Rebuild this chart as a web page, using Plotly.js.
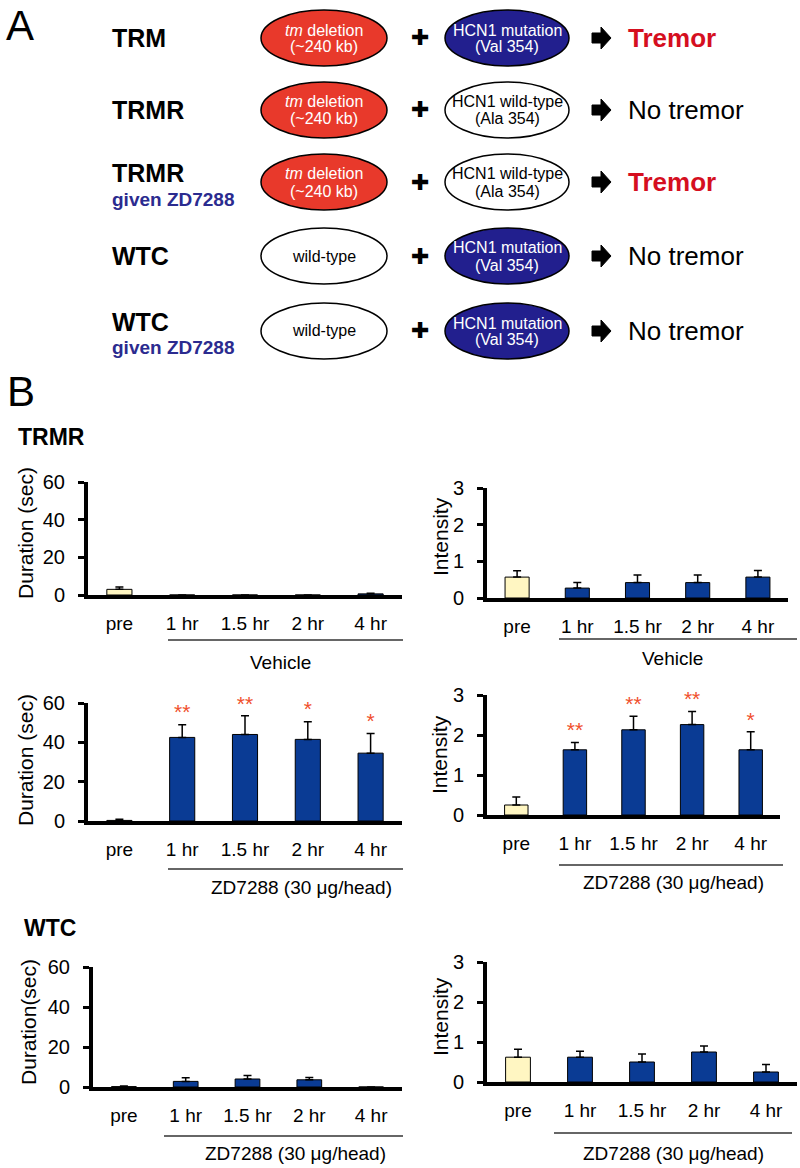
<!DOCTYPE html>
<html>
<head>
<meta charset="utf-8">
<script src="https://cdn.plot.ly/plotly-3.0.1.min.js"></script>
<style>html,body{margin:0;padding:0;background:#fff;}#chart{width:800px;height:1168px;}</style>
</head>
<body>
<div id="chart"></div>
<script>
// ---------- DATA ----------
const categories = ['pre', '1 hr', '1.5 hr', '2 hr', '4 hr'];
const durTicks = [0, 20, 40, 60];
const intTicks = [0, 1, 2, 3];

const trmrVehDur    = [3, 0, 0, 0, 0.6];
const trmrVehDurErr = [1.3, 0, 0, 0, 0.3];
const trmrVehInt    = [0.57, 0.27, 0.42, 0.42, 0.57];
const trmrVehIntErr = [0.17, 0.15, 0.21, 0.21, 0.18];

const trmrZdDur     = [0.3, 42.5, 44, 41.5, 34.5];
const trmrZdDurErr  = [0.6, 6.5, 9.5, 9, 10];
const trmrZdDurSig  = ['', '**', '**', '*', '*'];
const trmrZdInt     = [0.25, 1.63, 2.13, 2.26, 1.63];
const trmrZdIntErr  = [0.2, 0.18, 0.34, 0.33, 0.45];
const trmrZdIntSig  = ['', '**', '**', '**', '*'];

const wtcZdDur      = [0.2, 2.8, 4, 3.6, 0];
const wtcZdDurErr   = [0.3, 1.8, 1.7, 1.2, 0];
const wtcZdInt      = [0.62, 0.62, 0.5, 0.75, 0.25];
const wtcZdIntErr   = [0.2, 0.15, 0.2, 0.15, 0.19];

// Panel A content
const rowNames    = ['TRM', 'TRMR', 'TRMR', 'WTC', 'WTC'];
const rowSubs     = ['', '', 'given ZD7288', '', 'given ZD7288'];
const leftGenes   = [['<i>tm</i> deletion', '(~240 kb)'], ['<i>tm</i> deletion', '(~240 kb)'], ['<i>tm</i> deletion', '(~240 kb)'], ['wild-type'], ['wild-type']];
const leftKinds   = ['del', 'del', 'del', 'wt', 'wt'];
const rightGenes  = [['HCN1 mutation', '(Val 354)'], ['HCN1 wild-type', '(Ala 354)'], ['HCN1 wild-type', '(Ala 354)'], ['HCN1 mutation', '(Val 354)'], ['HCN1 mutation', '(Val 354)']];
const rightKinds  = ['mut', 'wt', 'wt', 'mut', 'mut'];
const outcomes    = ['Tremor', 'No tremor', 'Tremor', 'No tremor', 'No tremor'];

// ---------- LAYOUT HELPERS ----------
const W = 800, H = 1168;
const X = p => p / W;
const Y = p => 1 - p / H;
const BLUE = '#0a3b94', PRE = '#fff6c2', STAR = '#f0502d';
const FILL = {del: '#e8392b', mut: '#221f8e', wt: '#ffffff'};
const TXT = {del: '#ffffff', mut: '#ffffff', wt: '#000000'};

const layout = {
  width: W, height: H, margin: {l: 0, r: 0, t: 0, b: 0},
  paper_bgcolor: '#fff', plot_bgcolor: 'rgba(0,0,0,0)',
  showlegend: false, bargap: 0.6,
  font: {family: 'Liberation Sans, Arial, sans-serif', color: '#000'},
  shapes: [], annotations: []
};
const data = [];

const charts = [
  {v: trmrVehDur, e: trmrVehDurErr, sig: null, box: [88, 402, 482, 595], ticks: durTicks, rng: [0, 60], title: 'Duration (sec)', tx: 25, ty: 533, ul: [168, 403, 640], group: 'Vehicle', gx: 280, gy: 662},
  {v: trmrVehInt, e: trmrVehIntErr, sig: null, box: [487, 788, 488, 598], ticks: intTicks, rng: [0, 3], title: 'Intensity', tx: 440, ty: 537, ul: [559, 797, 639], group: 'Vehicle', gx: 672, gy: 658},
  {v: trmrZdDur, e: trmrZdDurErr, sig: trmrZdDurSig, box: [88, 402, 703, 821], ticks: durTicks, rng: [0, 60], title: 'Duration (sec)', tx: 25, ty: 760, ul: [168, 403, 869], group: 'ZD7288 (30 \u03bcg/head)', gx: 301, gy: 887},
  {v: trmrZdInt, e: trmrZdIntErr, sig: trmrZdIntSig, box: [487, 780, 695, 815], ticks: intTicks, rng: [0, 3], title: 'Intensity', tx: 440, ty: 755, ul: [559, 783, 865], group: 'ZD7288 (30 \u03bcg/head)', gx: 673, gy: 882},
  {v: wtcZdDur, e: wtcZdDurErr, sig: null, box: [93, 402, 967, 1087], ticks: durTicks, rng: [0, 60], title: 'Duration(sec)', tx: 28, ty: 1022, ul: [164, 403, 1136], group: 'ZD7288 (30 \u03bcg/head)', gx: 295, gy: 1153},
  {v: wtcZdInt, e: wtcZdIntErr, sig: null, box: [487, 797, 962, 1082], ticks: intTicks, rng: [0, 3], title: 'Intensity', tx: 440, ty: 1017, ul: [554, 792, 1133], group: 'ZD7288 (30 \u03bcg/head)', gx: 673, gy: 1153}
];

charts.forEach((c, i) => {
  const n = i + 1;
  const xa = 'x' + (n === 1 ? '' : n), ya = 'y' + (n === 1 ? '' : n);
  const xk = 'xaxis' + (n === 1 ? '' : n), yk = 'yaxis' + (n === 1 ? '' : n);
  data.push({
    type: 'bar', x: categories, y: c.v, xaxis: xa, yaxis: ya, width: 0.4,
    marker: {color: categories.map((_, k) => k === 0 ? PRE : BLUE), line: {color: '#000', width: 1}},
    error_y: {type: 'data', symmetric: false, array: c.e, arrayminus: c.v.map(() => 0), color: '#000', thickness: 1.5, width: 4},
    hoverinfo: 'skip', cliponaxis: false
  });
  if (c.sig) {
    data.push({
      type: 'scatter', mode: 'text', x: categories, y: c.v.map((v, k) => v + c.e[k]), text: c.sig,
      textposition: 'top center', textfont: {size: 21, color: STAR, family: 'Liberation Sans'},
      xaxis: xa, yaxis: ya, hoverinfo: 'skip', cliponaxis: false
    });
  }
  layout[xk] = {
    domain: [X(c.box[0]), X(c.box[1])], anchor: ya, type: 'category', range: [-0.5, 4.5],
    showline: true, linewidth: 4, linecolor: '#000', ticks: '', showgrid: false, zeroline: false,
    tickfont: {size: 19, color: '#000'}, ticklabelstandoff: 8, fixedrange: true
  };
  layout[yk] = {
    domain: [Y(c.box[3]), Y(c.box[2])], anchor: xa, range: c.rng, tickvals: c.ticks,
    showline: true, linewidth: 4, linecolor: '#000', ticks: 'outside', ticklen: 6, tickwidth: 3, tickcolor: '#000',
    showgrid: false, zeroline: false, tickfont: {size: 20, color: '#000'}, ticklabelstandoff: 9, fixedrange: true
  };
  layout.annotations.push({xref: 'paper', yref: 'paper', x: X(c.tx), y: Y(c.ty), text: c.title, textangle: -90, showarrow: false, xanchor: 'center', yanchor: 'middle', font: {size: 21, color: '#000'}});
  layout.shapes.push({type: 'line', xref: 'paper', yref: 'paper', x0: X(c.ul[0]), x1: X(c.ul[1]), y0: Y(c.ul[2]), y1: Y(c.ul[2]), line: {color: '#333', width: 1.5}});
  layout.annotations.push({xref: 'paper', yref: 'paper', x: X(c.gx), y: Y(c.gy), text: c.group, showarrow: false, xanchor: 'center', yanchor: 'middle', font: {size: 19, color: '#000'}});
});

// ---------- PANEL A ----------
const rowY = [38, 110, 182, 256, 331];
const LX = 324, RX = 507, RXR = 63, RXR2 = 62, RY = 28;
function addText(x, y, text, size, opts) {
  layout.annotations.push(Object.assign({xref: 'paper', yref: 'paper', x: X(x), y: Y(y), text: text, showarrow: false, xanchor: 'center', yanchor: 'middle', font: {size: size, color: '#000'}}, opts || {}));
}
function blockArrow(x, cy) {
  // decorative block arrow (paper coordinates)
  const pts = [[x, cy - 5], [x + 9, cy - 5], [x + 9, cy - 11], [x + 19, cy], [x + 9, cy + 11], [x + 9, cy + 5], [x, cy + 5]];
  const path = 'M ' + pts.map(p => X(p[0]).toFixed(5) + ',' + Y(p[1]).toFixed(5)).join(' L ') + ' Z';
  layout.shapes.push({type: 'path', xref: 'paper', yref: 'paper', path: path, fillcolor: '#000', line: {color: '#000', width: 1}});
}
addText(5, 1, 'A', 42, {xanchor: 'left', yanchor: 'top', borderpad: 0});
addText(5, 391, 'B', 42, {xanchor: 'left'});
addText(16, 437, '<b>TRMR</b>', 23, {xanchor: 'left'});
addText(22, 928, '<b>WTC</b>', 23, {xanchor: 'left'});

rowNames.forEach((nm, r) => {
  const cy = rowY[r];
  if (rowSubs[r]) {
    addText(110, cy - 9, '<b>' + nm + '</b>', 25, {xanchor: 'left'});
    addText(110, cy + 17, '<b>' + rowSubs[r] + '</b>', 19, {xanchor: 'left', font: {size: 19, color: '#2b2b8f'}});
  } else {
    addText(110, cy, '<b>' + nm + '</b>', 25, {xanchor: 'left'});
  }
  const lk = leftKinds[r], rk = rightKinds[r];
  layout.shapes.push({type: 'circle', xref: 'paper', yref: 'paper', x0: X(LX - RXR), x1: X(LX + RXR), y0: Y(cy + RY), y1: Y(cy - RY), fillcolor: FILL[lk], line: {color: '#000', width: 1.5}, layer: 'below'});
  layout.shapes.push({type: 'circle', xref: 'paper', yref: 'paper', x0: X(RX - RXR2), x1: X(RX + RXR2), y0: Y(cy + RY), y1: Y(cy - RY), fillcolor: FILL[rk], line: {color: '#000', width: 1.5}, layer: 'below'});
  const narrow = 'Liberation Sans Narrow, Arial Narrow, sans-serif';
  const lg = leftGenes[r], rg = rightGenes[r];
  if (lg.length === 2) {
    addText(LX, cy - 8, lg[0], 16, {font: {size: 16, color: TXT[lk], family: narrow}});
    addText(LX, cy + 9, lg[1], 16, {font: {size: 16, color: TXT[lk], family: narrow}});
  } else {
    addText(LX, cy, lg[0], 16, {font: {size: 16, color: TXT[lk], family: narrow}});
  }
  addText(RX, cy - 8, rg[0], 16, {font: {size: 16, color: TXT[rk], family: narrow}});
  addText(RX, cy + 9, rg[1], 16, {font: {size: 16, color: TXT[rk], family: narrow}});
  addText(420, cy, '\u271A', 22, {font: {size: 22, color: '#000', family: 'DejaVu Sans'}});
  blockArrow(592, cy);
  const isTremor = outcomes[r] === 'Tremor';
  addText(626, cy, isTremor ? '<b>Tremor</b>' : outcomes[r], 26, {xanchor: 'left', font: {size: 26, color: isTremor ? '#d50f1f' : '#000'}});
});

Plotly.newPlot('chart', data, layout, {staticPlot: true, displayModeBar: false});
</script>
</body>
</html>
